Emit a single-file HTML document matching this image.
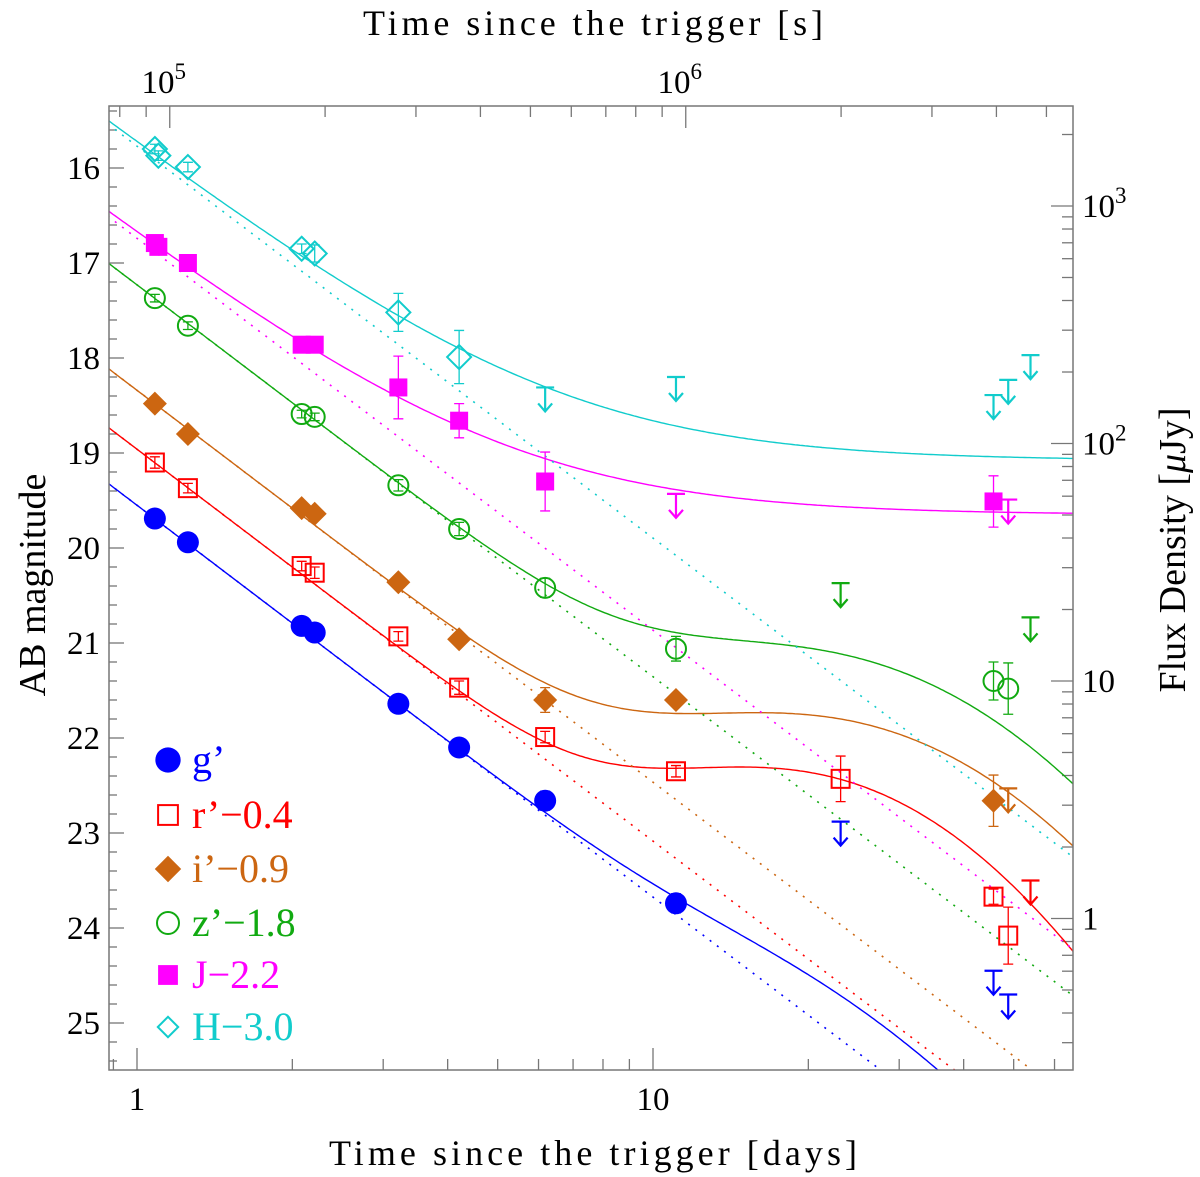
<!DOCTYPE html>
<html><head><meta charset="utf-8"><style>
html,body{margin:0;padding:0;background:#fff;}
svg{display:block;}
svg text{font-family:"Liberation Serif","DejaVu Serif",serif;}
</style></head><body>
<svg id="chart" width="1200" height="1177" viewBox="0 0 1200 1177" font-family="Liberation Serif, DejaVu Serif, serif">
<defs><clipPath id="pc"><rect x="109" y="106" width="964" height="964"/></clipPath></defs>
<g id="grid-ticks"></g>
<g id="curves" clip-path="url(#pc)"></g>
<g id="marks"></g>
<rect x="109" y="106" width="964" height="964" fill="none" stroke="#777" stroke-width="1.5"/>
<g id="labels"></g>
<text x="593" y="35" font-size="36" text-anchor="middle" textLength="460" lengthAdjust="spacing">Time since the trigger [s]</text>
<text x="593" y="1165" font-size="36" text-anchor="middle" textLength="528" lengthAdjust="spacing">Time since the trigger [days]</text>
<text transform="translate(45,585) rotate(-90)" font-size="38" text-anchor="middle">AB magnitude</text>
<text transform="translate(1185,550) rotate(-90)" font-size="38" text-anchor="middle">Flux Density [<tspan font-style="italic">μ</tspan>Jy]</text>
<g id="legend"></g>
</svg>
<script>
// ---- data ----
const bands = ['g','r','i','z','J','H'];
const bandLabels = ['g’','r’−0.4','i’−0.9','z’−1.8','J−2.2','H−3.0'];
const colors = ['#0000ff','#ff0000','#cc6611','#11aa11','#ff00ff','#11cccc'];
const markers = ['fcircle','osquare','fdiamond','ocircle','fsquare','odiamond'];
// detections: [day, mag, err]
const gData = [[1.083,19.69,0.04],[1.255,19.94,0.04],[2.085,20.82,0.04],[2.21,20.89,0.04],[3.21,21.64,0.04],[4.21,22.10,0.04],[6.18,22.66,0.1],[11.08,23.74,0.1]];
const rData = [[1.083,19.10,0.06],[1.255,19.37,0.05],[2.085,20.19,0.05],[2.21,20.26,0.06],[3.21,20.93,0.05],[4.21,21.47,0.07],[6.18,21.99,0.06],[11.08,22.35,0.06],[23.1,22.43,0.24],[45.7,23.67,0.08],[48.8,24.08,0.3]];
const iData = [[1.083,18.48,0.04],[1.255,18.80,0.04],[2.085,19.58,0.04],[2.21,19.64,0.04],[3.21,20.36,0.04],[4.21,20.96,0.04],[6.18,21.60,0.13],[11.08,21.60,0.04],[45.7,22.66,0.27]];
const zData = [[1.083,17.37,0.04],[1.255,17.66,0.04],[2.085,18.59,0.04],[2.21,18.62,0.04],[3.21,19.34,0.06],[4.21,19.80,0.07],[6.18,20.42,0.1],[11.08,21.06,0.13],[45.7,21.40,0.2],[48.8,21.48,0.27]];
const JData = [[1.083,16.79,0.04],[1.1,16.83,0.04],[1.255,17.00,0.04],[2.085,17.86,0.03],[2.21,17.86,0.03],[3.21,18.31,0.33],[4.21,18.66,0.18],[6.18,19.30,0.31],[45.7,19.51,0.27]];
const HData = [[1.083,15.80,0.05],[1.1,15.87,0.05],[1.255,15.99,0.05],[2.085,16.85,0.05],[2.21,16.90,0.09],[3.21,17.52,0.2],[4.21,17.99,0.28]];
// upper limits: [day, mag]
const gLim = [[23.1,22.88],[45.7,24.45],[48.8,24.70]];
const rLim = [[53.9,23.50]];
const iLim = [[48.8,22.53]];
const zLim = [[23.1,20.37],[53.9,20.73]];
const JLim = [[11.08,19.43],[48.8,19.49]];
const HLim = [[6.18,18.31],[11.08,18.20],[45.7,18.39],[48.8,18.23],[53.9,17.97]];
// model parameters per band (g,r,i,z,J,H)
const plIndex = 1.65;
const plMag1d = [19.55,18.96,18.34,17.23,16.74,15.77];
const hostMag = [99,99,99,99,19.65,19.08];
const bumpMag = [25.6,22.55,21.95,21.35,99,99];
const bumpDay = [15,19,21,21,20,20];
const bumpWidth = [0.27,0.29,0.32,0.32,0.3,0.3];
const allData = [gData,rData,iData,zData,JData,HData];
const allLim = [gLim,rLim,iLim,zLim,JLim,HLim];
const leftTicks = [16,17,18,19,20,21,22,23,24,25];
const rightTicks = ['10^3','10^2','10','1'];
const rightTickVals = [1000,100,10,1];
const bottomTicks = [1,10];
const topTicks = [1e5,1e6];

// ---- axes ----
const X0=137, DEC=516, Y0=168, MAG=95;
const L=109,R=1073,T=106,B=1070;
const xs = d => X0 + DEC*Math.log10(d);
const ys = m => Y0 + (m-16)*MAG;
const NS='http://www.w3.org/2000/svg';
function mk(tag, attrs, parent){const e=document.createElementNS(NS,tag);for(const k in attrs)e.setAttribute(k,attrs[k]);parent.appendChild(e);return e;}
const gT=document.getElementById('grid-ticks'), gL=document.getElementById('labels');
const tk='#777';
function tick(x1,y1,x2,y2){const l=mk('line',{x1,y1,x2,y2,stroke:tk,'stroke-width':1.3},gT);

}
for(let m=15.4;m<=25.45;m+=0.2){const mm=Math.round(m*10)/10;const y=ys(mm);if(y<T||y>B)continue;const major=Math.abs(mm-Math.round(mm))<0.01;tick(L,y,L+(major?15:8),y);}
leftTicks.forEach(m=>{const t=mk('text',{x:100,y:ys(m)+11,'font-size':33,'text-anchor':'end'},gL);t.textContent=m;

});
const magOfFlux = f => 23.9-2.5*Math.log10(f);
[0.1,1,10,100,1000,10000].forEach(dec=>{for(let k=1;k<10;k++){const y=ys(magOfFlux(dec*k));if(y<T||y>B)continue;tick(R,y,R-(k===1?22:11),y);}});
rightTicks.forEach((lab,i)=>{const y=ys(magOfFlux(rightTickVals[i]));const t=mk('text',{x:1082,y:y+11,'font-size':33},gL);
const p=lab.split('^');t.textContent=p[0];if(p[1]){const s=mk('tspan',{dy:-14,'font-size':23},t);s.textContent=p[1];}

});
[1,10].forEach(dec=>{for(let k=1;k<10;k++){const x=xs(dec*k);if(x<L||x>R)continue;tick(x,B,x,B-(k===1?22:11));}});
tick(xs(0.9),B,xs(0.9),B-11);
bottomTicks.forEach(d=>{const t=mk('text',{x:xs(d),y:1110,'font-size':33,'text-anchor':'middle'},gL);t.textContent=d;

});
[1e4,1e5,1e6,1e7].forEach(dec=>{for(let k=1;k<10;k++){const x=xs(dec*k/86400);if(x<L||x>R)continue;tick(x,T,x,T+(k===1?22:11));}});
topTicks.forEach(s=>{const x=xs(s/86400);const t=mk('text',{x:x-6,y:93,'font-size':33,'text-anchor':'middle'},gL);
t.textContent='10';const sp=mk('tspan',{dy:-14,'font-size':23},t);sp.textContent=String(Math.round(Math.log10(s)));

});

// ---- curves ----
const gC=document.getElementById('curves');
const fl = m => Math.pow(10,-0.4*m);
bands.forEach((b,i)=>{
  let solid='', dot='';
  for(let k=0;k<=400;k++){
    const lt=Math.log10(0.85)+k*(Math.log10(70)-Math.log10(0.85))/400;const t=Math.pow(10,lt);
    const pl=plMag1d[i]+2.5*plIndex*lt;
    const db=(lt-Math.log10(bumpDay[i]));
    const fb=fl(bumpMag[i])*Math.exp(-db*db/(2*bumpWidth[i]*bumpWidth[i]));
    const m=-2.5*Math.log10(fl(pl)+fl(hostMag[i])+fb);
    solid+=(k?'L':'M')+xs(t).toFixed(1)+','+ys(m).toFixed(1);
    dot+=(k?'L':'M')+xs(t).toFixed(1)+','+ys(pl).toFixed(1);
  }
  const p1=mk('path',{d:dot,fill:'none',stroke:colors[i],'stroke-width':1.6,'stroke-dasharray':'2,7'},gC);
  
  
  const p2=mk('path',{d:solid,fill:'none',stroke:colors[i],'stroke-width':1.4},gC);
  
  
});

// ---- markers ----
const gM=document.getElementById('marks');
function marker(type,x,y,c,parent,sc){
  sc=sc||1;let e;
  if(type==='fcircle')e=mk('circle',{cx:x,cy:y,r:11*sc,fill:c},parent);
  else if(type==='ocircle')e=mk('circle',{cx:x,cy:y,r:10*sc,fill:'none',stroke:c,'stroke-width':2},parent);
  else if(type==='osquare'){const h=9*sc;e=mk('rect',{x:x-h,y:y-h,width:2*h,height:2*h,fill:'none',stroke:c,'stroke-width':2},parent);}
  else if(type==='fsquare'){const h=9*sc;e=mk('rect',{x:x-h,y:y-h,width:2*h,height:2*h,fill:c},parent);}
  else if(type==='fdiamond'){const h=12*sc;e=mk('polygon',{points:`${x},${y-h} ${x+h},${y} ${x},${y+h} ${x-h},${y}`,fill:c},parent);}
  else {const h=12*sc;e=mk('polygon',{points:`${x},${y-h} ${x+h},${y} ${x},${y+h} ${x-h},${y}`,fill:'none',stroke:c,'stroke-width':2},parent);}
  return e;
}
bands.forEach((b,i)=>{
  allData[i].forEach(([d,m,e])=>{
    const x=xs(d),y=ys(m),y1=ys(m-e),y2=ys(m+e);
    const eb=mk('path',{d:`M${x},${y1}L${x},${y2}M${x-5},${y1}L${x+5},${y1}M${x-5},${y2}L${x+5},${y2}`,stroke:colors[i],'stroke-width':1.3,fill:'none'},gM);
    
    
    const mm=marker(markers[i],x,y,colors[i],gM);
    
    
  });
  allLim[i].forEach(([d,m])=>{
    const x=xs(d),y=ys(m);
    const u=mk('path',{d:`M${x-9},${y}L${x+9},${y}M${x},${y}L${x},${y+24}M${x-7},${y+16}L${x},${y+24}L${x+7},${y+16}`,stroke:colors[i],'stroke-width':2.2,fill:'none'},gM);
    
    
  });
});

// ---- legend ----
const gLeg=document.getElementById('legend');
const legY=[760,815,869,923,975,1027];
bands.forEach((b,i)=>{
  const mm=marker(markers[i],168,legY[i],colors[i],gLeg,i===0?1.15:(i===5?0.85:1.1));
  
  
  const t=mk('text',{x:192,y:legY[i]+13,'font-size':40,fill:colors[i]},gLeg);
  t.textContent=bandLabels[i];
  
  
});
</script>
</body></html>
